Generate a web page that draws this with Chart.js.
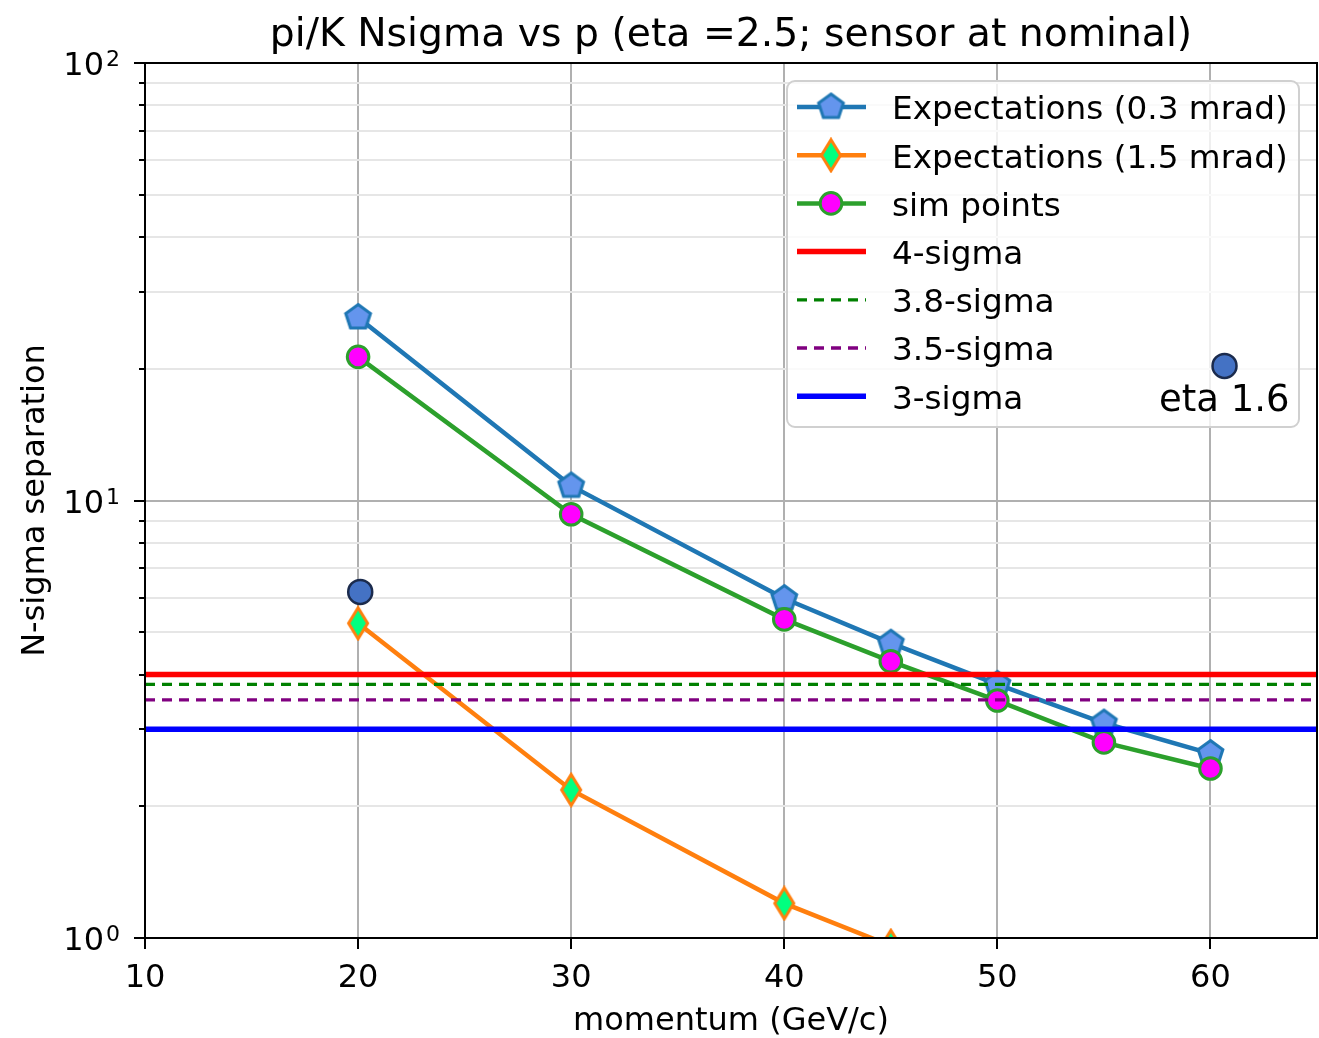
<!DOCTYPE html>
<html>
<head>
<meta charset="utf-8">
<script src="https://cdn.jsdelivr.net/npm/chart.js@4.4.0/dist/chart.umd.min.js"></script>
<style>
  html, body { margin: 0; padding: 0; background: #fff; overflow: hidden; }
  #wrap { width: 1319px; height: 1038px; }
  canvas { display: block; }
</style>
</head>
<body>
<div id="wrap"><canvas id="chart" width="1319" height="1038"></canvas></div>
<script>
// values
const momentum = [20, 30, 40, 45, 50, 55, 60];
const expect03 = [26.2, 10.8, 5.97, 4.72, 3.8, 3.1, 2.64];
const simPoints = [21.3, 9.3, 5.35, 4.29, 3.49, 2.8, 2.44];
const momentum15 = [20, 30, 40, 45];
const expect15 = [5.24, 2.18, 1.2, 0.96];
const etaMomentum = [20.1, 60.66];
const etaNsigma = [6.18, 20.3];
const sigmaLevels = [4, 3.8, 3.5, 3];
const sigmaNames = ["4-sigma", "3.8-sigma", "3.5-sigma", "3-sigma"];

// axes
const xRange = [10, 65];
const yRange = [1, 100];
const xTicks = [10, 20, 30, 40, 50, 60];
const yMajorTicks = [1, 10, 100];
const yMajorExp = ["0", "1", "2"];
const yMinorTicks = [2, 3, 4, 5, 6, 7, 8, 9, 20, 30, 40, 50, 60, 70, 80, 90];

const FONT = "'DejaVu Sans', sans-serif";

// custom marker shapes (matplotlib 'p' and 'd')
function makePentagon(r, fill, stroke, lw) {
  const size = Math.ceil(2 * r + lw + 2);
  const c = document.createElement("canvas");
  c.width = c.height = size;
  const g = c.getContext("2d");
  g.translate(size / 2, size / 2);
  g.beginPath();
  for (let i = 0; i < 5; i++) {
    const a = -Math.PI / 2 + (i * 2 * Math.PI) / 5;
    g.lineTo(r * Math.cos(a), r * Math.sin(a));
  }
  g.closePath();
  g.fillStyle = fill;
  g.fill();
  g.lineWidth = lw;
  g.strokeStyle = stroke;
  g.stroke();
  return c;
}

function makeDiamond(hw, hh, fill, stroke, lw) {
  const w = Math.ceil(2 * hw + lw + 2);
  const h = Math.ceil(2 * hh + lw + 2);
  const c = document.createElement("canvas");
  c.width = w;
  c.height = h;
  const g = c.getContext("2d");
  g.translate(w / 2, h / 2);
  g.beginPath();
  g.moveTo(0, -hh);
  g.lineTo(hw, 0);
  g.lineTo(0, hh);
  g.lineTo(-hw, 0);
  g.closePath();
  g.fillStyle = fill;
  g.fill();
  g.lineWidth = lw;
  g.strokeStyle = stroke;
  g.stroke();
  return c;
}

const pentagon = makePentagon(13, "#6495ed", "#1f77b4", 3);
const diamond = makeDiamond(9.5, 15.5, "#00ff7f", "#ff7f0e", 3);

function pts(xs, ys) {
  return xs.map((x, i) => ({ x: x, y: ys[i] }));
}

const sigmaColors = ["#ff0000", "#008000", "#800080", "#0000ff"];
const sigmaWidths = [5.5, 3.3, 3.3, 5.5];
const sigmaDash = [[], [10, 7], [10, 7], []];

const datasets = [
  {
    label: "Expectations (0.3 mrad)",
    data: pts(momentum, expect03),
    borderColor: "#1f77b4",
    borderWidth: 4.5,
    pointStyle: pentagon,
    pointRadius: 13,
    order: 7,
  },
  {
    label: "Expectations (1.5 mrad)",
    data: pts(momentum15, expect15),
    borderColor: "#ff7f0e",
    borderWidth: 4.5,
    pointStyle: diamond,
    pointRadius: 13,
    order: 6,
  },
  {
    label: "sim points",
    data: pts(momentum, simPoints),
    borderColor: "#2ca02c",
    borderWidth: 4.5,
    pointStyle: "circle",
    pointRadius: 10.8,
    pointBackgroundColor: "#ff00ff",
    pointBorderColor: "#2ca02c",
    pointBorderWidth: 3,
    order: 5,
  },
];

sigmaLevels.forEach((lvl, i) => {
  datasets.push({
    label: sigmaNames[i],
    data: pts(xRange, [lvl, lvl]),
    borderColor: sigmaColors[i],
    borderWidth: sigmaWidths[i],
    borderDash: sigmaDash[i],
    pointRadius: 0,
    order: 4 - i,
  });
});

datasets.push({
  label: "eta 1.6",
  data: pts(etaMomentum, etaNsigma),
  showLine: false,
  pointStyle: "circle",
  pointRadius: 12,
  pointBackgroundColor: "#4472c4",
  pointBorderColor: "#1b2b4d",
  pointBorderWidth: 2.5,
  order: 0,
});

datasets.forEach((d) => {
  d.clip = 0;
  d.tension = 0;
  d.fill = false;
});

// legend, ticks, frame and titles drawn matplotlib style
const mplPlugin = {
  id: "mpl",
  beforeDatasetsDraw(chart) {
    const ctx = chart.ctx;
    const bx = 787, by = 81, bw = 512, bh = 346;
    ctx.save();
    ctx.beginPath();
    ctx.roundRect(bx, by, bw, bh, 8);
    ctx.fillStyle = "rgba(255,255,255,0.8)";
    ctx.fill();
    ctx.lineWidth = 2;
    ctx.strokeStyle = "#d0d0d0";
    ctx.stroke();

    const rowY0 = 107, rowStep = 48.2;
    for (let i = 0; i < 7; i++) {
      const d = chart.data.datasets[i];
      const y = rowY0 + i * rowStep;
      ctx.beginPath();
      ctx.setLineDash(d.borderDash || []);
      ctx.lineWidth = d.borderWidth;
      ctx.strokeStyle = d.borderColor;
      ctx.moveTo(797, y);
      ctx.lineTo(866, y);
      ctx.stroke();
      ctx.setLineDash([]);
      if (d.pointStyle instanceof HTMLCanvasElement) {
        const s = d.pointStyle;
        ctx.drawImage(s, 831 - s.width / 2, y - s.height / 2);
      } else if (d.pointStyle === "circle" && d.pointRadius > 0) {
        ctx.beginPath();
        ctx.arc(831, y, d.pointRadius, 0, Math.PI * 2);
        ctx.fillStyle = d.pointBackgroundColor;
        ctx.fill();
        ctx.lineWidth = d.pointBorderWidth;
        ctx.strokeStyle = d.pointBorderColor;
        ctx.stroke();
      }
      ctx.fillStyle = "#000";
      ctx.font = "32.7px " + FONT;
      ctx.textAlign = "left";
      ctx.textBaseline = "middle";
      ctx.fillText(d.label, 892, y + 4);
    }
    ctx.restore();
  },
  afterDatasetsDraw(chart) {
    const ctx = chart.ctx;
    const a = chart.chartArea;
    const xs = chart.scales.x;
    const ys = chart.scales.y;
    ctx.save();
    ctx.strokeStyle = "#000";
    ctx.lineWidth = 2;
    ctx.strokeRect(a.left, a.top, a.right - a.left, a.bottom - a.top);
    ctx.beginPath();
    xTicks.forEach((v) => {
      const px = Math.round(xs.getPixelForValue(v));
      ctx.moveTo(px, a.bottom);
      ctx.lineTo(px, a.bottom + 11);
    });
    yMajorTicks.forEach((v) => {
      const py = Math.round(ys.getPixelForValue(v));
      ctx.moveTo(a.left - 11, py);
      ctx.lineTo(a.left, py);
    });
    yMinorTicks.forEach((v) => {
      const py = Math.round(ys.getPixelForValue(v));
      ctx.moveTo(a.left - 6, py);
      ctx.lineTo(a.left, py);
    });
    ctx.stroke();
    ctx.restore();
  },
  afterDraw(chart) {
    const ctx = chart.ctx;
    const a = chart.chartArea;
    const xs = chart.scales.x;
    const ys = chart.scales.y;
    ctx.save();
    ctx.fillStyle = "#000";
    ctx.textBaseline = "alphabetic";

    // x tick labels
    ctx.textAlign = "center";
    ctx.font = "32px " + FONT;
    xTicks.forEach((v) => {
      ctx.fillText(String(v), xs.getPixelForValue(v), 987);
    });

    // y tick labels as 10^n with a raised exponent
    yMajorTicks.forEach((v, i) => {
      const py = ys.getPixelForValue(v);
      ctx.font = "32px " + FONT;
      const wBase = ctx.measureText("10").width;
      ctx.font = "22px " + FONT;
      const wExp = ctx.measureText(yMajorExp[i]).width;
      const x0 = 120 - wExp - 2 - wBase;
      ctx.textAlign = "left";
      ctx.font = "32px " + FONT;
      ctx.fillText("10", x0, py + 12);
      ctx.font = "22px " + FONT;
      ctx.fillText(yMajorExp[i], x0 + wBase + 2, py + 3);
    });

    ctx.textAlign = "center";
    ctx.font = "39.3px " + FONT;
    ctx.fillText("pi/K Nsigma vs p (eta =2.5; sensor at nominal)", (a.left + a.right) / 2, 46);
    ctx.font = "32px " + FONT;
    ctx.fillText("momentum (GeV/c)", (a.left + a.right) / 2, 1030);
    ctx.save();
    ctx.translate(44, (a.top + a.bottom) / 2);
    ctx.rotate(-Math.PI / 2);
    ctx.fillText("N-sigma separation", 0, 0);
    ctx.restore();
    // annotation next to the eta 1.6 point
    ctx.textAlign = "left";
    ctx.font = "37px " + FONT;
    ctx.fillText("eta 1.6", xs.getPixelForValue(60.68) - 66, ys.getPixelForValue(20.3) + 45);
    ctx.restore();
  },
};

new Chart(document.getElementById("chart"), {
  type: "line",
  data: { datasets: datasets },
  options: {
    responsive: false,
    animation: false,
    devicePixelRatio: 1,
    layout: {
      autoPadding: false, // big markers would otherwise shrink the plot box
      padding: { top: 63, right: 2, left: 0, bottom: 0 },
    },
    plugins: {
      legend: { display: false },
      title: { display: false },
      tooltip: { enabled: false },
    },
    scales: {
      x: {
        type: "linear",
        min: xRange[0],
        max: xRange[1],
        afterBuildTicks: (scale) => {
          scale.ticks = xTicks.map((v) => ({ value: v }));
        },
        afterFit: (scale) => {
          scale.height = 100;
        },
        border: { display: false },
        grid: { color: "#b0b0b0", lineWidth: 2, drawTicks: false },
        // labels are painted by the plugin
        ticks: { display: false, autoSkip: false },
      },
      y: {
        type: "logarithmic",
        min: yRange[0],
        max: yRange[1],
        afterBuildTicks: (scale) => {
          scale.ticks = yMajorTicks
            .concat(yMinorTicks)
            .sort((p, q) => p - q)
            .map((v) => ({ value: v }));
        },
        afterFit: (scale) => {
          scale.width = 145;
        },
        border: { display: false },
        grid: {
          drawTicks: false,
          lineWidth: 2,
          color: (c) =>
            yMajorTicks.includes(c.tick && c.tick.value) ? "#b0b0b0" : "#e6e6e6",
        },
        ticks: { display: false, autoSkip: false },
      },
    },
  },
  plugins: [mplPlugin],
});
</script>
</body>
</html>
